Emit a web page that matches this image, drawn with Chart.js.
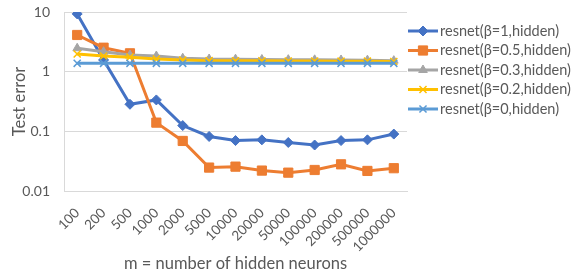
<!DOCTYPE html>
<html>
<head>
<meta charset="utf-8">
<script src="https://cdn.jsdelivr.net/npm/chart.js@4/dist/chart.umd.min.js"></script>
<style>
  html, body { margin: 0; padding: 0; background: #ffffff; }
  #wrap { width: 577px; height: 274px; position: relative; }
</style>
</head>
<body>
<div id="wrap"><canvas id="chart"></canvas></div>
<script>
// ── DATA ───────────────────────────────────────────────────────────
const hiddenNeurons = ['100', '200', '500', '1000', '2000', '5000', '10000',
  '20000', '50000', '100000', '200000', '500000', '1000000'];

const beta1   = [9.3, 1.57, 0.284, 0.336, 0.125, 0.082, 0.070, 0.072, 0.065, 0.059, 0.070, 0.072, 0.090];
const beta05  = [4.12, 2.52, 2.03, 0.14, 0.069, 0.0247, 0.0256, 0.022, 0.0203, 0.0225, 0.028, 0.0217, 0.0241];
const beta03  = [2.47, 2.16, 1.90, 1.83, 1.68, 1.63, 1.62, 1.60, 1.59, 1.58, 1.57, 1.56, 1.53];
const beta02  = [1.98, 1.83, 1.75, 1.63, 1.57, 1.53, 1.52, 1.52, 1.51, 1.51, 1.50, 1.50, 1.48];
const beta0   = [1.38, 1.38, 1.38, 1.38, 1.38, 1.38, 1.38, 1.38, 1.38, 1.38, 1.38, 1.38, 1.38];

const seriesLabels = [
  'resnet(β=1,hidden)', 'resnet(β=0.5,hidden)', 'resnet(β=0.3,hidden)',
  'resnet(β=0.2,hidden)', 'resnet(β=0,hidden)'
];
const yTicks = [0.01, 0.1, 1, 10];

// ── STYLE ──────────────────────────────────────────────────────────
const FONT = "Lato, 'Open Sans', sans-serif";
const TEXT = '#595959';
const GRID = '#d9d9d9';

const styles = [
  { color: '#4472c4', point: 'rectRot',  radius: 5 },
  { color: '#ed7d31', point: 'rect',     radius: 6.5 },
  { color: '#a5a5a5', point: 'triangle', radius: 5 },
  { color: '#ffc000', point: 'crossRot', radius: 5 },
  { color: '#5b9bd5', point: 'crossRot', radius: 5 },
];

Chart.defaults.font.family = FONT;
Chart.defaults.font.size = 14;
Chart.defaults.color = TEXT;

// ── LEGEND (line + marker, Excel style) ───────────────────────────
const lineLegend = {
  id: 'lineLegend',
  afterDraw(chart) {
    const ctx = chart.ctx;
    const x0 = 408, y0 = 31, step = 19.5, len = 30;
    ctx.save();
    chart.data.datasets.forEach((ds, i) => {
      const y = y0 + i * step;
      ctx.strokeStyle = ds.borderColor;
      ctx.lineWidth = 3;
      ctx.beginPath();
      ctx.moveTo(x0, y);
      ctx.lineTo(x0 + len, y);
      ctx.stroke();
      ctx.fillStyle = ds.pointBackgroundColor;
      ctx.strokeStyle = ds.pointBorderColor;
      ctx.lineWidth = ds.pointBorderWidth;
      Chart.helpers.drawPoint(ctx, { pointStyle: ds.pointStyle, radius: ds.pointRadius, borderWidth: ds.pointBorderWidth }, x0 + len / 2, y);
      ctx.fillStyle = TEXT;
      ctx.font = `14.5px ${FONT}`;
      ctx.textBaseline = 'middle';
      ctx.textAlign = 'left';
      ctx.fillText(ds.label, x0 + len + 2, y);
    });
    ctx.restore();
  }
};

const seriesData = [beta1, beta05, beta03, beta02, beta0];

new Chart(document.getElementById('chart'), {
  type: 'line',
  data: {
    labels: hiddenNeurons,
    datasets: seriesData.map((d, i) => ({
      label: seriesLabels[i],
      data: d,
      borderColor: styles[i].color,
      backgroundColor: styles[i].color,
      borderWidth: 3,
      pointStyle: styles[i].point,
      pointRadius: styles[i].radius,
      pointBackgroundColor: styles[i].color,
      pointBorderColor: styles[i].color,
      pointBorderWidth: styles[i].point === 'crossRot' ? 1.5 : 1,
      tension: 0,
      order: 4 - i,
    }))
  },
  options: {
    responsive: true,
    maintainAspectRatio: false,
    animation: false,
    layout: { padding: { left: 0, right: 170, top: 12, bottom: 0 } },
    plugins: {
      legend: { display: false },
      tooltip: { enabled: false },
    },
    scales: {
      x: {
        type: 'category',
        offset: true,
        grid: { display: false, drawTicks: false },
        border: { color: GRID, width: 1 },
        ticks: { minRotation: 45, maxRotation: 45, padding: 14, autoSkip: false, font: { size: 13.5 } },
        title: { display: true, text: 'm = number of hidden neurons', font: { size: 16.5 }, padding: { top: 0, bottom: 0 } },
        afterFit: (scale) => { scale.height = 83; scale.paddingLeft = 0; scale.paddingRight = 0; },
      },
      y: {
        type: 'logarithmic',
        min: 0.01,
        max: 10,
        grid: { color: GRID, drawTicks: false },
        border: { color: GRID, width: 1 },
        afterBuildTicks: (scale) => { scale.ticks = yTicks.map(v => ({ value: v })); },
        ticks: { padding: 14, callback: (v) => String(v) },
        title: { display: true, text: 'Test error', font: { size: 16.5 }, padding: { top: 10, bottom: 0 } },
        afterFit: (scale) => { scale.width = 64; scale.paddingTop = 0; scale.paddingBottom = 0; },
      }
    }
  },
  plugins: [lineLegend]
});
</script>
</body>
</html>
